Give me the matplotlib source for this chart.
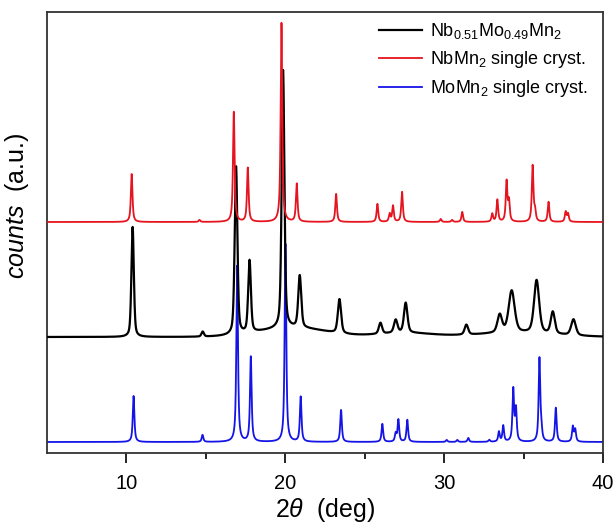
import numpy as np
import matplotlib
matplotlib.use("Agg")
import matplotlib.pyplot as plt

plt.rcParams['font.family'] = ['Liberation Sans', 'DejaVu Sans']
plt.rcParams['mathtext.fontset'] = 'custom'
plt.rcParams['mathtext.rm'] = 'Liberation Sans'
plt.rcParams['mathtext.it'] = 'Liberation Sans:italic'
plt.rcParams['mathtext.bf'] = 'Liberation Sans:bold'

# ---- data ----
labels = [r'Nb$_{0.51}$Mo$_{0.49}$Mn$_2$', r'NbMn$_2$ single cryst.', r'MoMn$_2$ single cryst.']

# NbMn2 single crystal (simulated): positions (deg), heights (a.u.)
red_pos = [10.33, 14.6, 16.76, 17.64, 19.76, 20.72, 23.20, 25.80, 26.57, 26.78, 27.35,
           29.78, 30.50, 31.14, 33.03, 33.35, 33.93, 34.08, 35.57, 35.72, 36.57, 37.65, 37.80]
red_h = [48, 2, 110, 54, 199, 38, 28, 18, 8, 16, 30,
         3, 2, 10, 8, 22, 40, 20, 56, 10, 20, 10, 8]
red_offset = 231

# MoMn2 single crystal (simulated)
blue_pos = [10.45, 14.79, 16.97, 17.83, 20.01, 20.97, 23.51, 26.11, 26.95, 27.12, 27.68,
            30.16, 30.83, 31.52, 32.84, 33.45, 33.72, 34.35, 34.52, 36.00, 36.12, 37.03,
            38.10, 38.25]
blue_h = [46, 7, 176, 85, 198, 45, 32, 18, 8, 22, 22,
          2, 2, 4, 2, 10, 16, 52, 32, 83, 10, 34, 15, 12]
blue_offset = 11

# Nb0.51Mo0.49Mn2 measured pattern
black_pos = [10.39, 14.8, 16.90, 17.75, 19.86, 20.91, 23.41, 25.99, 26.95, 27.58,
             31.40, 33.50, 34.25, 35.82, 36.84, 38.14]
black_h = [110, 5, 168, 72, 258, 52, 34, 11, 13, 30, 10, 18, 42, 53, 22, 16]
black_w = [0.09, 0.09, 0.10, 0.10, 0.10, 0.11, 0.12, 0.12, 0.13, 0.13, 0.13,
           0.17, 0.22, 0.19, 0.15, 0.17]
black_hump_pos = [20.5, 27.5, 34.5]
black_hump_h = [9, 4, 4]
black_hump_w = [2.5, 2.0, 3.0]
black_offset = 116

sim_width = 0.06
x = np.linspace(5, 40, 7001)


def pattern(pos, h, w, eta=1.0):
    y = np.zeros_like(x)
    for p, a, g in zip(pos, h, w):
        lor = 1 / (1 + ((x - p) / g) ** 2)
        gau = np.exp(-np.log(2) * ((x - p) / g) ** 2)
        y += a * (eta * lor + (1 - eta) * gau)
    return y


red = red_offset + pattern(red_pos, red_h, [sim_width] * len(red_pos), 0.8)
blue = blue_offset + pattern(blue_pos, blue_h, [sim_width] * len(blue_pos), 0.8)
black = (black_offset + pattern(black_pos, black_h, black_w, 0.45)
         + pattern(black_hump_pos, black_hump_h, black_hump_w, 0.0))

fig = plt.figure(figsize=(6.14, 5.25), dpi=100)
ax = fig.add_axes([47 / 614, 1 - 453 / 525, 556 / 614, 441 / 525])

lb, = ax.plot(x, blue, color='#1414e6', lw=1.3, zorder=2)
lk, = ax.plot(x, black, color='black', lw=1.6, zorder=3)
lr, = ax.plot(x, red, color='#e6141e', lw=1.3, zorder=4)

ax.set_xlim(5, 40)
ax.set_ylim(0, 441)
ax.set_xticks([10, 20, 30, 40])
ax.set_xticks([15, 25, 35], minor=True)
ax.set_yticks([])
ax.tick_params(axis='x', which='major', direction='out', length=7, width=1.2, labelsize=14.5, pad=8)
ax.tick_params(axis='x', which='minor', direction='out', length=4, width=1.2)
for s in ax.spines.values():
    s.set_linewidth(1.3)
    s.set_color('#333333')

ax.set_xlabel(r'$2\theta$  (deg)', fontsize=18, labelpad=2)
ax.set_ylabel(r'$\mathit{counts}$  (a.u.)', fontsize=18)
ax.yaxis.set_label_coords(-0.028, 0.56)

ax.legend([lk, lr, lb], labels, loc='upper right', bbox_to_anchor=(0.99, 1.0),
          frameon=False, fontsize=13, handlelength=2.4, handletextpad=0.45,
          labelspacing=0.45, borderaxespad=0.1)

fig.savefig('out.png', dpi=100)
